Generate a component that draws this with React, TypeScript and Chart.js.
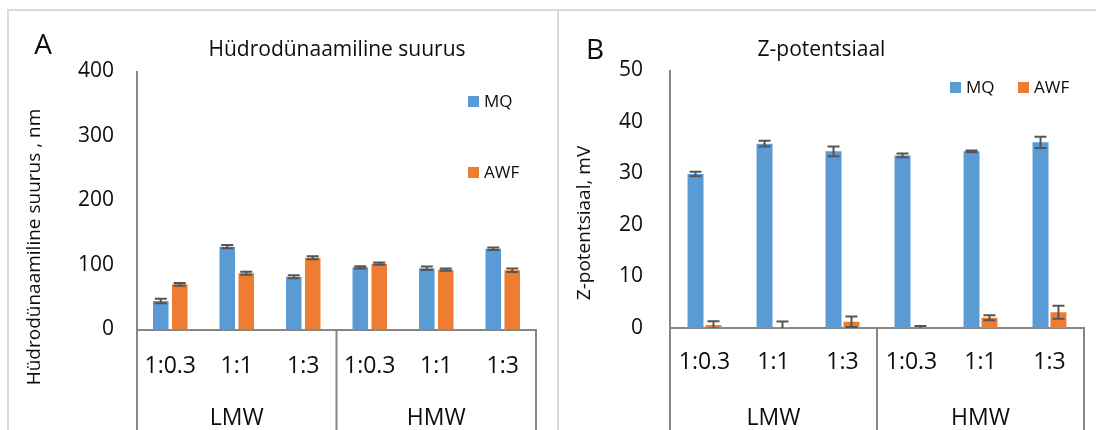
import React, { useEffect, useRef } from "react";
import { Chart, registerables } from "chart.js";

Chart.register(...registerables);

// ---------- data ----------
const categories = ["1:0.3", "1:1", "1:3", "1:0.3", "1:1", "1:3"];
const groups = ["LMW", "HMW"];
const groupSize = 3;
const seriesNames = ["MQ", "AWF"];

const sizeMQ = [44.2, 128.4, 81.9, 96.4, 94.9, 125.3];
const sizeMQErr = [3.4, 2.6, 2.3, 1.8, 2.8, 2.0];
const sizeAWF = [70.0, 87.1, 111.3, 102.0, 92.7, 91.8];
const sizeAWFErr = [2.0, 2.3, 2.3, 1.8, 1.8, 2.6];
const sizeTicks = [0, 100, 200, 300, 400];

const zetaMQ = [29.9, 35.8, 34.3, 33.5, 34.3, 36.05];
const zetaMQErr = [0.42, 0.58, 0.94, 0.36, 0.15, 1.1];
const zetaAWF = [0.6, 0.15, 1.2, 0.1, 2.0, 3.05];
const zetaAWFErr = [0.72, 1.1, 1.03, 0.3, 0.49, 1.26];
const zetaTicks = [0, 10, 20, 30, 40, 50];

// ---------- styles ----------
const FONT = "'Open Sans', 'Noto Sans', sans-serif";
const BLUE = "#5B9BD5";
const ORANGE = "#ED7D31";
const TEXT = "#0d0d0d";
const AXIS = "#868686";
const FRAME = "#d9d9d9";
const ERR = "#555555";

type Panel = {
  width: number;
  letter: string;
  letterPos: [number, number];
  title: string;
  titlePos: [number, number];
  yTitle: string;
  yTitlePos: [number, number];
  mq: number[];
  mqErr: number[];
  awf: number[];
  awfErr: number[];
  ticks: number[];
  top: number;
  padRight: number;
  yWidth: number;
  xHeight: number;
  yPad: number;
  xPad: number;
  cp: number;
  bp: number;
  legend: { box: [number, number] }[];
  frame: [number, number, number, number][];
};

function decor(p: Panel) {
  return {
    id: "decor" + p.letter,
    afterDatasetsDraw(chart: any) {
      const ctx = chart.ctx;
      const yScale = chart.scales.y;
      const area = chart.chartArea;
      const errs = [p.mqErr, p.awfErr];
      ctx.save();
      ctx.beginPath();
      ctx.rect(area.left, area.top - 20, area.right - area.left, area.bottom - area.top + 20);
      ctx.clip();
      ctx.strokeStyle = ERR;
      ctx.lineWidth = 2;
      chart.data.datasets.forEach((ds: any, di: number) => {
        const meta = chart.getDatasetMeta(di);
        meta.data.forEach((el: any, i: number) => {
          const v = ds.data[i];
          const e = errs[di][i];
          const x = el.x;
          const y1 = yScale.getPixelForValue(v + e);
          const y2 = yScale.getPixelForValue(v - e);
          const hw = 6;
          ctx.beginPath();
          ctx.moveTo(x, y1);
          ctx.lineTo(x, y2);
          ctx.moveTo(x - hw, y1);
          ctx.lineTo(x + hw, y1);
          ctx.moveTo(x - hw, y2);
          ctx.lineTo(x + hw, y2);
          ctx.stroke();
        });
      });
      ctx.restore();
    },
    afterDraw(chart: any) {
      const ctx = chart.ctx;
      const xScale = chart.scales.x;
      const area = chart.chartArea;
      const H = chart.height;
      ctx.save();
      // frame
      ctx.fillStyle = FRAME;
      p.frame.forEach(([x, y, w, h]) => ctx.fillRect(x, y, w, h));

      ctx.fillStyle = TEXT;
      ctx.textBaseline = "middle";
      // letter
      ctx.font = `28px ${FONT}`;
      ctx.textAlign = "center";
      ctx.fillText(p.letter, p.letterPos[0], p.letterPos[1]);
      // title
      ctx.font = `21px ${FONT}`;
      ctx.fillText(p.title, p.titlePos[0], p.titlePos[1]);
      // y title
      ctx.save();
      ctx.translate(p.yTitlePos[0], p.yTitlePos[1]);
      ctx.rotate(-Math.PI / 2);
      ctx.font = `19px ${FONT}`;
      ctx.fillText(p.yTitle, 0, 0);
      ctx.restore();

      // legend
      ctx.font = `17px ${FONT}`;
      ctx.textAlign = "left";
      chart.data.datasets.forEach((ds: any, di: number) => {
        const [bx, by] = p.legend[di].box;
        ctx.fillStyle = ds.backgroundColor;
        ctx.fillRect(bx, by, 11, 11);
        ctx.fillStyle = TEXT;
        ctx.fillText(ds.label, bx + 16, by + 6);
      });

      // multi-level category separators & group labels
      ctx.strokeStyle = AXIS;
      ctx.lineWidth = 2;
      const bounds: number[] = [];
      for (let g = 0; g <= groups.length; g++) {
        let bx: number;
        if (g === 0) bx = area.left;
        else if (g === groups.length) bx = area.right;
        else bx = (xScale.getPixelForTick(g * groupSize - 1) + xScale.getPixelForTick(g * groupSize)) / 2;
        bounds.push(bx);
        ctx.beginPath();
        ctx.moveTo(bx, area.bottom);
        ctx.lineTo(bx, H);
        ctx.stroke();
      }
      ctx.fillStyle = TEXT;
      ctx.font = `23px ${FONT}`;
      ctx.textAlign = "center";
      groups.forEach((g, gi) => {
        ctx.fillText(g, (bounds[gi] + bounds[gi + 1]) / 2, 418);
      });
      ctx.restore();
    },
  };
}

function buildConfig(p: Panel): any {
  return {
    type: "bar",
    data: {
      labels: categories,
      datasets: [
        {
          label: seriesNames[0],
          data: p.mq,
          backgroundColor: BLUE,
          categoryPercentage: p.cp,
          barPercentage: p.bp,
        },
        {
          label: seriesNames[1],
          data: p.awf,
          backgroundColor: ORANGE,
          categoryPercentage: p.cp,
          barPercentage: p.bp,
        },
      ],
    },
    options: {
      animation: false,
      responsive: false,
      maintainAspectRatio: false,
      layout: { padding: { left: 0, right: p.padRight, top: p.top, bottom: 0 } },
      plugins: {
        legend: { display: false },
        tooltip: { enabled: false },
        title: { display: false },
      },
      scales: {
        x: {
          type: "category",
          grid: { display: false, drawTicks: false },
          border: { display: true, color: AXIS, width: 2 },
          ticks: {
            font: { family: FONT, size: 23 },
            color: TEXT,
            padding: p.xPad,
            maxRotation: 0,
            autoSkip: false,
          },
          afterFit: (s: any) => {
            s.height = p.xHeight;
          },
        },
        y: {
          min: p.ticks[0],
          max: p.ticks[p.ticks.length - 1],
          grid: { display: false, drawTicks: false },
          border: { display: true, color: AXIS, width: 2 },
          ticks: {
            font: { family: FONT, size: 21 },
            color: TEXT,
            padding: p.yPad,
          },
          afterBuildTicks: (s: any) => {
            s.ticks = p.ticks.map((v) => ({ value: v }));
          },
          afterFit: (s: any) => {
            s.width = p.yWidth;
          },
        },
      },
    },
    plugins: [decor(p)],
  };
}

const panelA: Panel = {
  width: 557,
  letter: "A",
  letterPos: [43, 46],
  title: "Hüdrodünaamiline suurus",
  titlePos: [337, 50],
  yTitle: "Hüdrodünaamiline suurus , nm",
  yTitlePos: [35, 247],
  mq: sizeMQ,
  mqErr: sizeMQErr,
  awf: sizeAWF,
  awfErr: sizeAWFErr,
  ticks: sizeTicks,
  top: 71.5,
  padRight: 21,
  yWidth: 137,
  xHeight: 100.5,
  yPad: 23,
  xPad: 23,
  cp: 0.57,
  bp: 0.82,
  legend: [{ box: [468, 96] }, { box: [468, 167] }],
  frame: [
    [7, 9, 550, 2],
    [7, 9, 2, 421],
  ],
};

const panelB: Panel = {
  width: 539,
  letter: "B",
  letterPos: [38, 51],
  title: "Z-potentsiaal",
  titlePos: [264.5, 50],
  yTitle: "Z-potentsiaal, mV",
  yTitlePos: [28, 223],
  mq: zetaMQ,
  mqErr: zetaMQErr,
  awf: zetaAWF,
  awfErr: zetaAWFErr,
  ticks: zetaTicks,
  top: 70.5,
  padRight: 12,
  yWidth: 113,
  xHeight: 102,
  yPad: 27,
  xPad: 21,
  cp: 0.52,
  bp: 0.89,
  legend: [{ box: [393, 82] }, { box: [461, 82] }],
  frame: [
    [0, 9, 539, 2],
    [0, 9, 2, 421],
  ],
};

function ChartCanvas({ panel, left }: { panel: Panel; left: number }) {
  const ref = useRef<HTMLCanvasElement | null>(null);
  useEffect(() => {
    if (!ref.current) return;
    const chart = new Chart(ref.current, buildConfig(panel));
    return () => chart.destroy();
  }, [panel]);
  return (
    <canvas
      ref={ref}
      width={panel.width}
      height={430}
      style={{ position: "absolute", left, top: 0, width: panel.width, height: 430 }}
    />
  );
}

export default function App() {
  return (
    <div
      style={{
        position: "fixed",
        left: 0,
        top: 0,
        width: 1096,
        height: 430,
        background: "#ffffff",
        overflow: "hidden",
      }}
    >
      <ChartCanvas panel={panelA} left={0} />
      <ChartCanvas panel={panelB} left={557} />
    </div>
  );
}
